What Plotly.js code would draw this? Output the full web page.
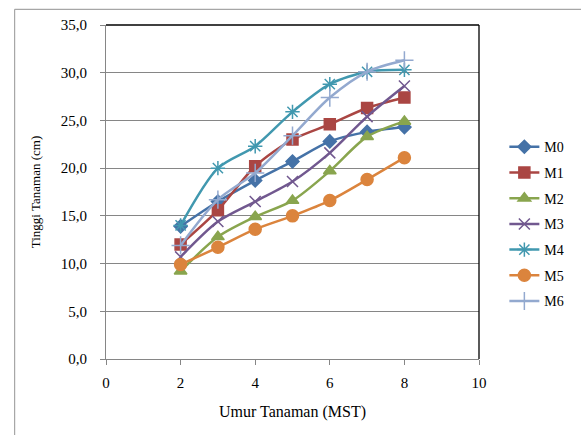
<!DOCTYPE html>
<html>
<head>
<meta charset="utf-8">
<script src="https://cdn.plot.ly/plotly-3.0.1.min.js"></script>
<style>
html,body{margin:0;padding:0;background:#fff;}
#chart{width:581px;height:435px;}
</style>
</head>
<body>
<div id="chart"></div>
<script>
const weeks = [2, 3, 4, 5, 6, 7, 8];
const seriesNames = ["M0", "M1", "M2", "M3", "M4", "M5", "M6"];
const M0 = [13.9, 16.5, 18.7, 20.7, 22.8, 23.8, 24.3];
const M1 = [12.0, 15.6, 20.2, 23.0, 24.6, 26.3, 27.4];
const M2 = [9.2, 12.8, 14.9, 16.6, 19.7, 23.3, 24.9];
const M3 = [10.7, 14.4, 16.5, 18.6, 21.6, 25.4, 28.6];
const M4 = [14.0, 20.0, 22.3, 25.9, 28.8, 30.1, 30.3];
const M5 = [9.9, 11.7, 13.6, 15.0, 16.6, 18.8, 21.1];
const M6 = [11.9, 16.7, 19.5, 23.4, 27.4, 30.1, 31.3];
const allValues = [M0, M1, M2, M3, M4, M5, M6];

const colors = ["#4572A7", "#AA4643", "#89A54E", "#71588F", "#4198AF", "#DB843D", "#93A9CF"];
const symbols = ["diamond", "square", "triangle-up", "x-thin-open", "asterisk-open", "circle", "cross-thin-open"];
const sizes = [10, 11, 11, 11, 12, 12, 13];

const traces = seriesNames.map((n, i) => ({
  x: weeks,
  y: allValues[i],
  name: n,
  legendgroup: n,
  type: "scatter",
  mode: "lines+markers",
  line: {color: colors[i], width: 2.5, shape: "spline", smoothing: 0.8},
  marker: {symbol: symbols[i], size: sizes[i], color: colors[i], line: {color: colors[i], width: 1.5}}
}));

const serif = "Liberation Serif, Times New Roman, serif";
const layout = {
  width: 581, height: 435,
  margin: {l: 106, r: 100, t: 25, b: 76},
  paper_bgcolor: "#fff", plot_bgcolor: "#fff",
  separators: ",.",
  font: {family: serif, size: 14, color: "#000"},
  showlegend: true,
  legend: {x: 1.068, y: 0.682, xanchor: "left", yanchor: "top", font: {family: serif, size: 14, color: "#000"},
           tracegroupgap: 4.5, bgcolor: "rgba(0,0,0,0)", itemwidth: 30},
  xaxis: {range: [0, 10], dtick: 2, tick0: 0, showgrid: false, zeroline: false,
          showline: true, linecolor: "#868686", linewidth: 1, ticks: "outside", ticklen: 5, tickcolor: "#868686",
          ticklabelstandoff: 5,
          tickfont: {family: serif, size: 15, color: "#000"},
          title: {text: "Umur Tanaman (MST)", font: {family: serif, size: 16, color: "#000"}, standoff: 15}},
  yaxis: {range: [0, 35], dtick: 5, tick0: 0, tickformat: ".1f", showgrid: true, gridcolor: "#868686", gridwidth: 1,
          zeroline: false, showline: true, linecolor: "#868686", linewidth: 1, ticks: "outside", ticklen: 5, tickcolor: "#868686",
          ticklabelstandoff: 10,
          tickfont: {family: serif, size: 15, color: "#000"},
          title: {text: "Tinggi Tanaman (cm)", font: {family: serif, size: 13, color: "#000"}, standoff: 17}},
  shapes: [
    {type: "line", xref: "paper", yref: "paper", x0: 0, x1: 1, y0: 1, y1: 1, line: {color: "#000", width: 1.3}},
    {type: "line", xref: "paper", yref: "paper", x0: 1, x1: 1, y0: 0, y1: 1, line: {color: "#000", width: 1.3}},
    {type: "line", xref: "paper", yref: "paper", x0: -0.245, x1: 1.3, y0: 1.047, y1: 1.047, line: {color: "#a6a6a6", width: 1.2}},
    {type: "line", xref: "paper", yref: "paper", x0: -0.245, x1: -0.245, y0: -0.3, y1: 1.047, line: {color: "#a6a6a6", width: 1.2}}
  ]
};

Plotly.newPlot("chart", traces, layout, {displayModeBar: false, staticPlot: true});
</script>
</body>
</html>
